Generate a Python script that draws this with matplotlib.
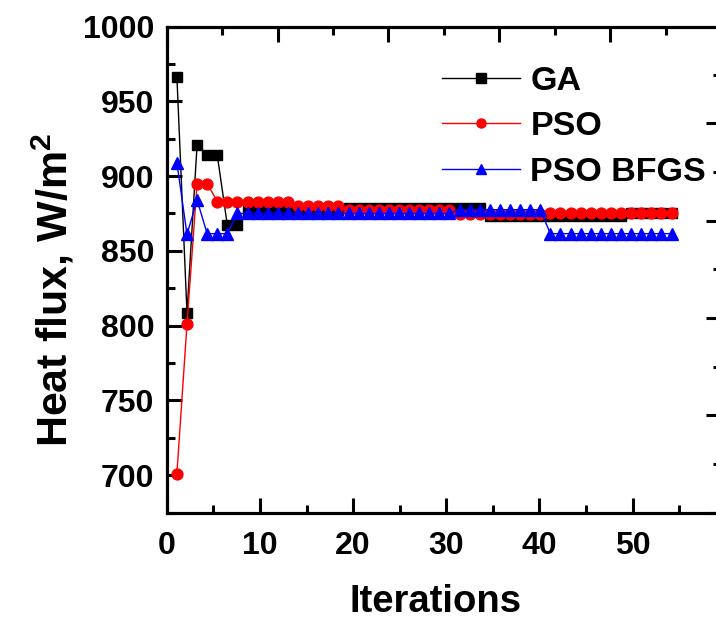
import matplotlib
matplotlib.use("Agg")
import matplotlib.pyplot as plt
from matplotlib.ticker import MultipleLocator, NullFormatter

plt.rcParams['font.family'] = ['Liberation Sans', 'DejaVu Sans']
plt.rcParams['font.weight'] = 'bold'
plt.rcParams['mathtext.fontset'] = 'custom'
plt.rcParams['mathtext.rm'] = 'Liberation Sans:bold'
plt.rcParams['mathtext.bf'] = 'Liberation Sans:bold'
plt.rcParams['mathtext.it'] = 'Liberation Sans:bold'

# Convergence history of the estimated heat flux (W/m^2)
iterations = list(range(1, 51))

ga = ([966.5, 808.5, 921, 914, 914, 867, 867]
      + [877] * 10          # 8-17
      + [879] * 14          # 18-31
      + [873.5] * 14        # 32-45
      + [875.5] * 5)        # 46-50

pso = ([701, 801, 895, 895]
       + [883] * 8          # 5-12
       + [880] * 5          # 13-17
       + [877] * 11         # 18-28
       + [874.5] * 9        # 29-37
       + [875.5] * 13)      # 38-50

pso_bfgs = ([909, 861, 884, 861.5, 861.5, 861.5]
            + [875] * 22    # 7-28
            + [877.5] * 9   # 29-37
            + [861.5] * 13) # 38-50

series_labels = ['GA', 'PSO', 'PSO BFGS']
x_ticks = [0, 10, 20, 30, 40, 50]
y_ticks = [700, 750, 800, 850, 900, 950, 1000]

W, H = 716, 622
fig = plt.figure(figsize=(W / 100, H / 100), dpi=100)
L, R, T, B = 166.8, 721.0, 26.6, 512.5
ax = fig.add_axes([L / W, 1 - B / H, (R - L) / W, (B - T) / H])

spine_w = 2.2
for s in ax.spines.values():
    s.set_linewidth(spine_w)

ax.set_xlim(0, 59.5)
ax.set_ylim(675, 1000)
ax.set_xticks(x_ticks)
ax.set_yticks(y_ticks)
ax.xaxis.set_minor_locator(MultipleLocator(5))
ax.yaxis.set_minor_locator(MultipleLocator(25))
ax.tick_params(which='both', direction='in', width=2.2, top=False, right=False)
ax.tick_params(which='major', length=10.5, labelsize=23)
ax.tick_params(which='minor', length=5.5)
ax.tick_params(axis='x', pad=13)
ax.tick_params(axis='y', pad=9)
for lab in ax.get_xticklabels() + ax.get_yticklabels():
    lab.set_fontweight('bold')

ax.set_xlabel('Iterations', fontsize=27.5, fontweight='bold')
ax.xaxis.set_label_coords((436 - L) / (R - L), -(620 - B) / (B - T), transform=ax.transAxes)
ax.xaxis.label.set_va('bottom')
ax.set_ylabel('Heat flux, W/m$^2$', fontsize=31, fontweight='bold')
ax.yaxis.set_label_coords(-(L - 53) / (R - L), (B - 290) / (B - T), transform=ax.transAxes)
ax.yaxis.label.set_va('center')

# top and right frame ticks
ax_top = ax.twiny()
ax_top.set_xlim(0, 50)
ax_top.xaxis.set_major_locator(MultipleLocator(10))
ax_top.xaxis.set_minor_locator(MultipleLocator(5))
ax_top.xaxis.set_major_formatter(NullFormatter())
ax_top.tick_params(which='both', direction='in', width=2.2)
ax_top.tick_params(which='major', length=10.5)
ax_top.tick_params(which='minor', length=5.5)

ax_r = ax.twinx()
ax_r.set_ylim(0, 249.7)
ax_r.yaxis.set_major_locator(MultipleLocator(50))
ax_r.yaxis.set_minor_locator(MultipleLocator(25))
ax_r.yaxis.set_major_formatter(NullFormatter())
ax_r.tick_params(which='both', direction='in', width=2.2)
ax_r.tick_params(which='major', length=10.5)
ax_r.tick_params(which='minor', length=5.5)
for a in (ax_top, ax_r):
    for s in a.spines.values():
        s.set_linewidth(spine_w)

# data layer
axd = ax.twiny()
axd.set_xlim(0, 54.9)
axd.set_ylim(675, 1000)
axd.axis('off')

axd.plot(iterations, ga, color='black', marker='s', markersize=7.2, lw=1.0,
         label=series_labels[0], zorder=3)
axd.plot(iterations, pso, color='#ff0000', marker='o', markersize=7.8, lw=1.0,
         label=series_labels[1], zorder=4)
axd.plot(iterations, pso_bfgs, color='#0000ff', marker='^', markersize=8.2, lw=1.0,
         label=series_labels[2], zorder=5)

leg = axd.legend(loc='upper left', bbox_to_anchor=(442 / W, 1 - 66 / H),
                 bbox_transform=fig.transFigure, frameon=False, numpoints=1,
                 prop={'weight': 'bold', 'size': 24.5},
                 handlelength=2.3, handletextpad=0.3, labelspacing=0.42,
                 borderpad=0, borderaxespad=0)
for h in leg.legend_handles:
    h.set_markersize(6.5)

fig.savefig('out.png', dpi=100)
